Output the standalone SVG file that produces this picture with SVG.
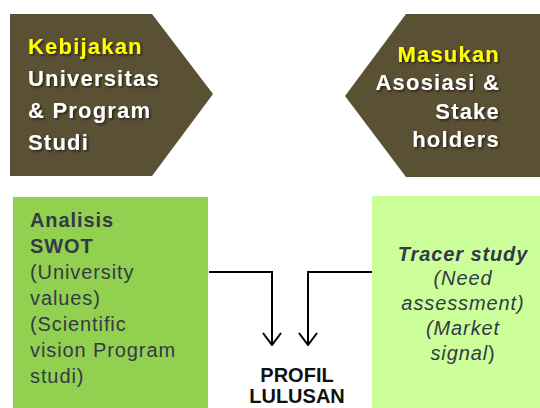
<svg xmlns="http://www.w3.org/2000/svg" width="540" height="408" viewBox="0 0 540 408">
<defs>
<style>
.olive{fill:#5a5034}
.hd{font-family:"Liberation Sans",Arial,sans-serif;font-weight:bold;font-size:22px;letter-spacing:1.2px}
.yel{fill:#ffff00}
.wh{fill:#ffffff}
.bt{font-family:"Liberation Sans",Arial,sans-serif;font-size:20px;fill:#323a48;letter-spacing:0.9px}
.conn{fill:none;stroke:#000;stroke-width:2}
.pl{font-family:"Liberation Sans",Arial,sans-serif;font-weight:bold;font-size:20px;fill:#111}
</style>
<filter id="sh" x="-10%" y="-10%" width="130%" height="130%">
<feDropShadow dx="1.5" dy="1.5" stdDeviation="1" flood-color="#000" flood-opacity="0.6"/>
</filter>
<marker id="ah" viewBox="0 0 14 20" refX="13" refY="10" markerWidth="14" markerHeight="20" markerUnits="userSpaceOnUse" orient="auto">
<path d="M1,1 L13,10 L1,19" fill="none" stroke="#000" stroke-width="2"/>
</marker>
</defs>
<rect width="540" height="408" fill="#ffffff"/>
<g id="kebijakan">
<polygon class="olive" points="10,14 152,14 213,94 152,176 10,176"/>
<g class="hd" filter="url(#sh)">
<text x="28" y="54" class="yel">Kebijakan</text>
<text x="28" y="86" class="wh">Universitas</text>
<text x="28" y="118" class="wh">&amp; Program</text>
<text x="28" y="150" class="wh">Studi</text>
</g>
</g>
<g id="masukan">
<polygon class="olive" points="540,14 406,14 345,96 406,177 540,177"/>
<g class="hd" filter="url(#sh)" text-anchor="end">
<text x="500" y="62" class="yel">Masukan</text>
<text x="500" y="90" class="wh">Asosiasi &amp;</text>
<text x="500" y="119" class="wh">Stake</text>
<text x="500" y="147" class="wh">holders</text>
</g>
</g>
<g id="swot">
<rect x="13" y="197" width="195" height="211" fill="#92d050"/>
<text class="bt" x="30" y="227" font-weight="bold">Analisis</text>
<text class="bt" x="30" y="253" font-weight="bold">SWOT</text>
<text class="bt" x="30" y="279">(University</text>
<text class="bt" x="30" y="305">values)</text>
<text class="bt" x="30" y="331">(Scientific</text>
<text class="bt" x="30" y="357">vision Program</text>
<text class="bt" x="30" y="383">studi)</text>
</g>
<g id="tracer">
<rect x="372" y="196" width="168" height="212" fill="#ccff99"/>
<g class="bt" text-anchor="middle" font-style="italic">
<text x="463" y="261" font-weight="bold">Tracer study</text>
<text x="463" y="285">(Need</text>
<text x="463" y="310">assessment)</text>
<text x="463" y="335">(Market</text>
<text x="463" y="360">signal<tspan font-style="normal">)</tspan></text>
</g>
</g>
<g id="profil">
<text class="pl" x="297" y="382" text-anchor="middle">PROFIL</text>
<text class="pl" x="297" y="403" text-anchor="middle">LULUSAN</text>
</g>
<g id="connectors">
<polyline class="conn" points="209,272 272,272 272,345" marker-end="url(#ah)"/>
<polyline class="conn" points="372,272 308,272 308,345" marker-end="url(#ah)"/>
</g>
</svg>
